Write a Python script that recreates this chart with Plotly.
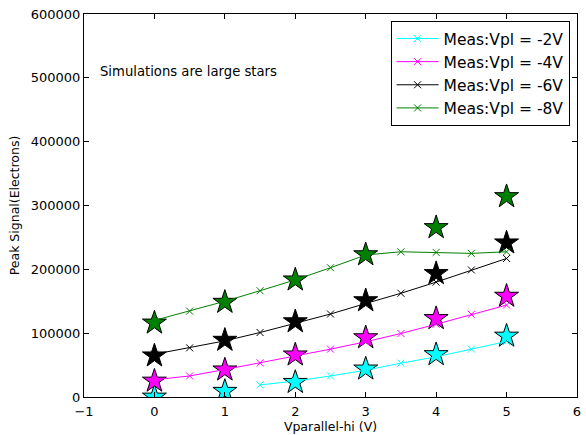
import plotly.graph_objects as go

# Measured data (x markers with lines)
meas_labels = ["Meas:Vpl = -2V", "Meas:Vpl = -4V", "Meas:Vpl = -6V", "Meas:Vpl = -8V"]
colors = ["cyan", "magenta", "black", "green"]

x_m2 = [1.5, 2.0, 2.5, 3.0, 3.5, 4.0, 4.5, 5.0]
y_m2 = [19000, 25000, 33000, 42000, 53000, 63000, 75000, 87000]

x_full = [0.0, 0.5, 1.0, 1.5, 2.0, 2.5, 3.0, 3.5, 4.0, 4.5, 5.0]
y_m4 = [27000, 33000, 43000, 53500, 64500, 75000, 86500, 99500, 114000, 129500, 144000]
y_m6 = [67000, 77000, 88000, 101000, 115500, 130000, 146500, 162500, 180000, 199000, 217000]
y_m8 = [120000, 134500, 150000, 166500, 183500, 202500, 222500, 227500, 226500, 225000, 227500]

# Simulated data (large stars)
x_sim = [0, 1, 2, 3, 4, 5]
s_m2 = [0, 9000, 23000, 44000, 66500, 95500]
s_m4 = [25000, 42500, 66000, 93000, 123000, 158000]
s_m6 = [64500, 89000, 118000, 151000, 193500, 241500]
s_m8 = [116000, 148500, 183500, 223000, 265500, 314000]

meas_x = [x_m2, x_full, x_full, x_full]
meas_y = [y_m2, y_m4, y_m6, y_m8]
sims = [s_m2, s_m4, s_m6, s_m8]

fig = go.Figure()

for c, sy in zip(colors, sims):
    fig.add_trace(go.Scatter(
        x=x_sim, y=sy, mode="markers", showlegend=False,
        marker=dict(symbol="star", size=18, color=c,
                    line=dict(color="black", width=1))))

for lab, c, mx, my in zip(meas_labels, colors, meas_x, meas_y):
    fig.add_trace(go.Scatter(
        x=mx, y=my, mode="lines+markers", name=lab,
        line=dict(color=c, width=1),
        marker=dict(symbol="x-thin", size=7, color=c,
                    line=dict(color=c, width=1))))

fig.add_annotation(x=-0.8, y=510000, xref="x", yref="y",
                   text="Simulations are large stars", showarrow=False,
                   xanchor="left", yanchor="middle",
                   font=dict(size=13.2, color="black"))

axis_common = dict(showline=True, linecolor="black", linewidth=1, mirror="allticks",
                   ticks="inside", ticklen=5, tickcolor="black", showgrid=False,
                   zeroline=False, tickfont=dict(size=13, color="black"),
                   automargin=False)

fig.update_xaxes(range=[-1, 6], dtick=1, tick0=0, ticklabelstandoff=2,
                 title=dict(text="Vparallel-hi (V)", font=dict(size=12.5, color="black"), standoff=4),
                 **axis_common)
fig.update_yaxes(range=[0, 600000], dtick=100000, tickformat="d",
                 title=dict(text="Peak Signal(Electrons)", font=dict(size=12.5, color="black"), standoff=8),
                 **axis_common)

fig.update_layout(
    width=586, height=435,
    margin=dict(l=84, r=9, t=14, b=38),
    paper_bgcolor="white", plot_bgcolor="white",
    font=dict(family="DejaVu Sans", color="black"),
    legend=dict(x=0.985, y=0.982, xanchor="right", yanchor="top",
                bgcolor="white", bordercolor="black", borderwidth=1,
                font=dict(size=15.5), tracegroupgap=0, itemwidth=42),
)

# remove the default 8px page margin so the figure sits at the window's top-left
fig.write_html("out.html",
               config={"displayModeBar": False},
               post_script="document.body.style.margin='0px';document.body.style.overflow='hidden';")
